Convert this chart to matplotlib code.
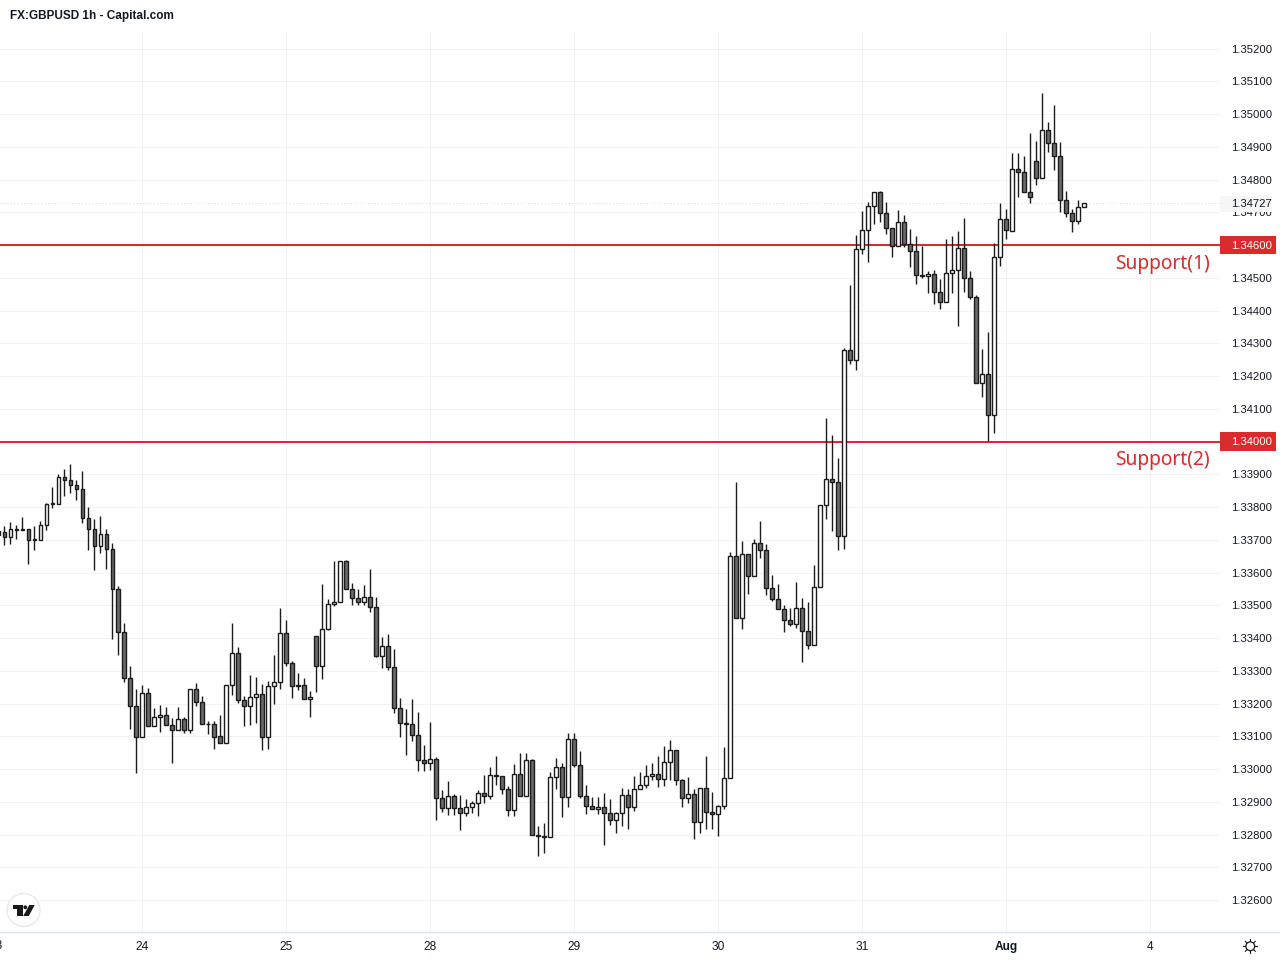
import numpy as np
import matplotlib
matplotlib.use("Agg")
import matplotlib.pyplot as plt
from matplotlib.patches import Circle, Polygon, Rectangle

# GBPUSD hourly candles, in units of 0.00001
opens = [
    133726, 133725, 133708, 133734, 133734, 133734, 133700, 133700, 133746, 133810,
    133810, 133893, 133883, 133868, 133856, 133767, 133734, 133682, 133718, 133673,
    133551, 133419, 133279, 133193, 133099, 133233, 133132, 133160, 133166, 133135,
    133120, 133153, 133120, 133243, 133205, 133138, 133138, 133102, 133078, 133258,
    133355, 133212, 133191, 133221, 133230, 133099, 133252, 133267, 133416, 133325,
    133255, 133255, 133215, 133407, 133313, 133429, 133505, 133511, 133634, 133551,
    133523, 133511, 133526, 133496, 133346, 133377, 133310, 133187, 133139, 133136,
    133105, 133026, 133019, 133032, 132910, 132880, 132917, 132880, 132865, 132883,
    132895, 132926, 132917, 132981, 132978, 132938, 132874, 132984, 132917, 133027,
    132798, 132795, 132792, 132975, 133005, 132914, 133091, 133012, 132917, 132886,
    132877, 132883, 132865, 132844, 132865, 132920, 132883, 132938, 132950, 132978,
    132984, 132969, 133021, 133057, 132966, 132911, 132923, 132837, 132941, 132868,
    132862, 132886, 132972, 133651, 133462, 133657, 133590, 133691, 133669, 133553,
    133520, 133489, 133456, 133443, 133492, 133422, 133379, 133556, 133807, 133886,
    133877, 133712, 134280, 134248, 134588, 134646, 134720, 134762, 134698, 134652,
    134597, 134671, 134604, 134582, 134509, 134506, 134512, 134457, 134426, 134515,
    134524, 134591, 134500, 134442, 134179, 134206, 134081, 134564, 134680, 134644,
    134833, 134824, 134763, 134858, 134806, 134952, 134910, 134873, 134736, 134699,
    134674, 134717,
]
highs = [
    133759, 133741, 133753, 133744, 133768, 133734, 133741, 133756, 133813, 133861,
    133900, 133915, 133930, 133881, 133909, 133799, 133762, 133774, 133732, 133689,
    133558, 133445, 133313, 133243, 133255, 133246, 133185, 133194, 133188, 133155,
    133188, 133158, 133243, 133264, 133222, 133148, 133148, 133164, 133258, 133445,
    133372, 133222, 133286, 133280, 133259, 133268, 133347, 133491, 133454, 133329,
    133292, 133277, 133237, 133407, 133564, 133518, 133634, 133634, 133637, 133567,
    133549, 133561, 133610, 133524, 133402, 133411, 133366, 133216, 133182, 133213,
    133173, 133072, 133143, 133036, 132936, 132964, 132923, 132921, 132908, 132903,
    132936, 132982, 133005, 133040, 132979, 132948, 133016, 133049, 133049, 133030,
    132826, 132835, 132991, 133034, 133019, 133109, 133109, 133055, 132951, 132915,
    132915, 132926, 132909, 132869, 132942, 132938, 132979, 132991, 133013, 133019,
    133040, 133071, 133089, 133057, 132969, 132976, 132938, 132941, 133040, 132930,
    132890, 133068, 133663, 133875, 133695, 133657, 133701, 133756, 133686, 133591,
    133564, 133502, 133493, 133570, 133521, 133509, 133622, 133807, 134071, 134019,
    133951, 134284, 134479, 134632, 134705, 134732, 134762, 134766, 134730, 134652,
    134708, 134693, 134650, 134629, 134598, 134522, 134525, 134495, 134617, 134626,
    134644, 134681, 134522, 134446, 134281, 134333, 134607, 134727, 134711, 134880,
    134880, 134871, 134941, 134917, 135063, 134975, 135027, 134914, 134764, 134709,
    134737, 134729,
]
lows = [
    133706, 133683, 133686, 133701, 133731, 133626, 133668, 133700, 133729, 133797,
    133810, 133833, 133843, 133820, 133751, 133668, 133607, 133659, 133610, 133397,
    133348, 133265, 133122, 132988, 133099, 133132, 133132, 133112, 133135, 133018,
    133120, 133109, 133109, 133191, 133138, 133106, 133061, 133078, 133078, 133225,
    133201, 133130, 133133, 133140, 133057, 133060, 133198, 133243, 133314, 133216,
    133240, 133215, 133158, 133234, 133274, 133424, 133497, 133511, 133551, 133500,
    133500, 133500, 133479, 133342, 133308, 133301, 133170, 133097, 133042, 133085,
    132993, 132993, 132996, 132844, 132870, 132860, 132860, 132814, 132857, 132867,
    132857, 132895, 132908, 132951, 132924, 132857, 132857, 132917, 132917, 132798,
    132735, 132744, 132792, 132939, 132854, 132884, 133007, 132911, 132863, 132877,
    132863, 132768, 132829, 132805, 132826, 132817, 132872, 132938, 132942, 132967,
    132945, 132948, 132967, 132951, 132884, 132897, 132787, 132805, 132817, 132817,
    132796, 132877, 132972, 133462, 133429, 133533, 133590, 133643, 133530, 133512,
    133489, 133417, 133438, 133432, 133328, 133365, 133379, 133556, 133762, 133728,
    133670, 133673, 134238, 134217, 134572, 134547, 134663, 134669, 134635, 134562,
    134597, 134595, 134534, 134482, 134498, 134452, 134421, 134406, 134426, 134452,
    134354, 134458, 134434, 134179, 134137, 134003, 134027, 134537, 134617, 134644,
    134746, 134763, 134727, 134782, 134806, 134883, 134828, 134700, 134685, 134639,
    134663, 134717,
]
closes = [
    133716, 133708, 133734, 133731, 133731, 133700, 133701, 133746, 133810, 133811,
    133893, 133883, 133868, 133856, 133767, 133734, 133682, 133718, 133673, 133551,
    133419, 133279, 133193, 133099, 133233, 133132, 133160, 133166, 133135, 133120,
    133153, 133120, 133243, 133205, 133138, 133137, 133099, 133078, 133258, 133355,
    133212, 133191, 133221, 133230, 133099, 133252, 133267, 133416, 133325, 133252,
    133252, 133215, 133221, 133313, 133429, 133505, 133511, 133634, 133551, 133523,
    133511, 133526, 133496, 133346, 133377, 133310, 133187, 133139, 133136, 133105,
    133026, 133019, 133032, 132910, 132880, 132917, 132880, 132865, 132883, 132895,
    132926, 132917, 132981, 132978, 132938, 132874, 132984, 132917, 133027, 132798,
    132795, 132792, 132975, 133005, 132914, 133091, 133012, 132917, 132886, 132877,
    132883, 132865, 132844, 132865, 132920, 132883, 132938, 132950, 132978, 132984,
    132969, 133021, 133057, 132966, 132911, 132923, 132837, 132941, 132868, 132862,
    132886, 132972, 133651, 133462, 133657, 133590, 133691, 133669, 133553, 133520,
    133489, 133456, 133443, 133492, 133422, 133379, 133556, 133807, 133886, 133877,
    133712, 134280, 134248, 134588, 134646, 134720, 134762, 134698, 134652, 134597,
    134671, 134604, 134582, 134509, 134506, 134512, 134456, 134426, 134515, 134524,
    134591, 134500, 134442, 134179, 134206, 134081, 134564, 134680, 134646, 134833,
    134824, 134763, 134748, 134806, 134952, 134910, 134873, 134736, 134699, 134674,
    134717, 134727,
]

# One tick per trading day; the first label is cut off by the left edge
day_ticks = [24, 48, 72, 96, 120, 144, 168, 192]
day_labels = ["24", "25", "28", "29", "30", "31", "Aug", "4"]
price_ticks = [1.326 + 0.001 * i for i in range(27)]
support_levels = [1.346, 1.340]
support_names = ["Support(1)", "Support(2)"]
last_price = 1.34727

DARK = "#1c1c1c"
BODY = "#6a6a6a"
RED = "#d92b2b"
GRID = "#f2f3f5"
TEXT = "#131722"
SCALE_SIZE = 8.15

plt.rcParams["font.family"] = "Liberation Sans"

fig = plt.figure(figsize=(12.8, 9.6), dpi=100)
ax = fig.add_axes([0, 28 / 960, 1220 / 1280, 900 / 960])
ax.set_axisbelow(True)

o = np.array(opens) / 1e5
h = np.array(highs) / 1e5
l = np.array(lows) / 1e5
c = np.array(closes) / 1e5
x = np.arange(len(o))

top = np.maximum(o, c)
bottom = np.minimum(o, c)
fills = ["white" if up else BODY for up in c > o]

# red levels stay under the candles
for level in support_levels:
    ax.axhline(level, color=RED, lw=1.45, zorder=1)
ax.axhline(last_price, color="#d4d6da", lw=0.7, ls=(0, (1, 2.5)), zorder=1)

wicks = ax.vlines(x, l, h, color=DARK, lw=1.0, zorder=2)
wicks.set_snap(True)
ax.bar(x, top - bottom, bottom=bottom, width=0.6, color=fills, edgecolor=DARK,
       linewidth=1.0, zorder=3)

ax.set_xlim(0.283, 203.62)
ax.set_ylim(1.325023, 1.352504)

ax.grid(True, color=GRID, lw=0.8)
ax.axvline(0, color=GRID, lw=0.8)
for side in ["top", "left", "right", "bottom"]:
    ax.spines[side].set_visible(False)

ax.set_xticks(day_ticks, day_labels)
ax.yaxis.tick_right()
labels = ["" if round(p, 3) in support_levels else "%.5f" % p for p in price_ticks]
ax.set_yticks(price_ticks, labels)
ax.tick_params(axis="both", length=0, labelcolor=TEXT)
ax.tick_params(axis="x", pad=6.5, labelsize=8.6)
ax.tick_params(axis="y", pad=7.8, labelsize=SCALE_SIZE)
ax.get_xticklabels()[6].set_fontweight("bold")

trans = ax.get_yaxis_transform()
xtrans = ax.get_xaxis_transform()
ax.text(-0.3, -0.0155, "23", transform=xtrans, ha="center", va="center",
        fontsize=8.6, color=TEXT, clip_on=False)

# boxes on the price scale
for level, name in zip(support_levels, support_names):
    ax.add_patch(Rectangle((1, level - 0.00028), 56 / 1220, 0.00056, transform=trans,
                           color=RED, lw=0, clip_on=False, zorder=5))
    ax.text(1231 / 1220, level - 0.00003, "%.5f" % level, transform=trans, color="white",
            fontsize=SCALE_SIZE, va="center", ha="left", zorder=6)
    ax.text(1210 / 1220, level - 0.00058, name, transform=trans, color=RED,
            fontsize=13.8, va="center", ha="right", family="Noto Sans", zorder=6)

ax.add_patch(Rectangle((1, last_price - 0.00027), 52 / 1220, 0.0005, transform=trans,
                       color="#f6f6f7", lw=0, clip_on=False, zorder=5))
ax.text(1231 / 1220, last_price - 0.00003, "%.5f" % last_price, transform=trans, color=TEXT,
        fontsize=SCALE_SIZE, va="center", ha="left", zorder=6)

# overlay in pixels for title, separators and the two icons
over = fig.add_axes([0, 0, 1, 1], facecolor="none")
over.set_xlim(0, 1280)
over.set_ylim(960, 0)
over.axis("off")

over.text(10, 15.5, "FX:GBPUSD 1h - Capital.com", fontsize=8.5, fontweight="bold",
          color=TEXT, va="center", ha="left")
over.plot([0, 1280], [932, 932], color="#e0e3eb", lw=1)

# logo badge
over.add_patch(Circle((23.5, 910), 16.5, fc="white", ec="#e8e9ec", lw=1))
over.add_patch(Polygon([(12.7, 905), (22.7, 905), (22.7, 916), (17.3, 916), (17.3, 909), (12.7, 909)],
                       fc="#1a1a1a", lw=0))
over.add_patch(Circle((25.3, 907.3), 1.9, fc="#1a1a1a", lw=0))
over.add_patch(Polygon([(29.3, 905), (34.7, 905), (28.8, 916), (23.2, 916)], fc="#1a1a1a", lw=0))

# settings icon
over.add_patch(Circle((1250.3, 946.3), 4.4, fc="none", ec="#1a1a1a", lw=0.9))
for a in np.arange(8) * np.pi / 4:
    over.plot([1250.3 + 5 * np.cos(a), 1250.3 + 7 * np.cos(a)],
              [946.3 + 5 * np.sin(a), 946.3 + 7 * np.sin(a)], color="#1a1a1a", lw=0.8)

fig.savefig("out.png", dpi=100)
